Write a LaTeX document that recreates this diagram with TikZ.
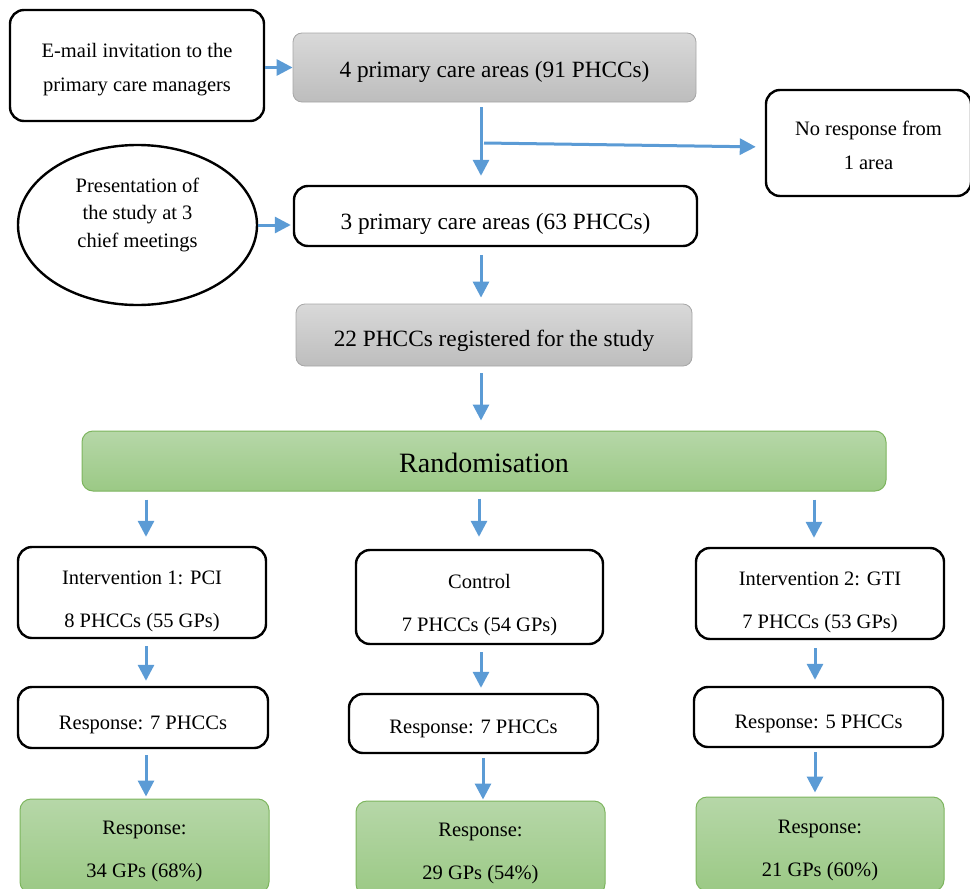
\documentclass[tikz,border=0pt]{standalone}
\usepackage{fontspec}
\setmainfont{Liberation Serif}
\usetikzlibrary{arrows.meta,shapes.geometric}
\definecolor{arrblue}{HTML}{5B9BD5}
\definecolor{graytop}{HTML}{D9D9D9}
\definecolor{graybot}{HTML}{BDBDBD}
\definecolor{grayline}{HTML}{A6A6A6}
\definecolor{greentop}{HTML}{B6D7A8}
\definecolor{greenbot}{HTML}{9BC985}
\definecolor{greenline}{HTML}{7DB55E}
\newcommand\dnr[1]{\rule{0pt}{#1pt}}
\begin{document}
\begin{tikzpicture}[x=1pt,y=-1pt,
  wbox/.style={draw=black, line width=2.4pt, rounded corners=14pt, fill=white, align=center, inner sep=0pt},
  gbox/.style={draw=grayline, line width=0.8pt, rounded corners=9pt, top color=graytop, bottom color=graybot, align=center, inner sep=0pt},
  grbox/.style={draw=greenline, line width=1pt, rounded corners=11pt, top color=greentop, bottom color=greenbot, align=center, inner sep=0pt},
  ell/.style={draw=black, line width=2.4pt, ellipse, fill=white, align=center, inner sep=0pt},
  arr/.style={draw=arrblue, line width=3pt, -{Triangle[length=16pt,width=16pt]}},
  dn/.style={execute at begin node={\rule{0pt}{#1pt}}},
  up/.style={execute at end node={\rule[-#1pt]{0pt}{1pt}}},
  fbig/.style={font=\fontsize{23.3}{30}\selectfont},
  fsm/.style={font=\fontsize{20.5}{34}\selectfont},
  fsm2/.style={font=\fontsize{20.5}{43}\selectfont}
]
\clip (0,0) rectangle (970,889);
% top row
\node[wbox, fsm, minimum width=254pt, minimum height=111pt] (email) at (137,65.5) {\dnr{23}E-mail invitation to the\\primary care managers};
\node[gbox, fbig, dn=25, minimum width=403pt, minimum height=69pt] (p4) at (494.5,67.5) {4 primary care areas (91 PHCCs)};
\node[wbox, fsm, minimum width=205pt, minimum height=106pt] (nores) at (868.5,143) {\dnr{19}No response from\\1 area};
\node[ell, font=\fontsize{20.5}{27.5}\selectfont, up=24.5, minimum width=239pt, minimum height=160pt] (pres) at (137.5,225) {Presentation of\\the study at 3\\chief meetings};
\node[wbox, fbig, dn=32, minimum width=403pt, minimum height=60pt] (p3) at (495.5,216) {3 primary care areas (63 PHCCs)};
\node[gbox, fbig, dn=28.5, minimum width=396pt, minimum height=62pt] (p22) at (494,335) {22 PHCCs registered for the study};
\node[grbox, font=\fontsize{28}{34}\selectfont, dn=24, minimum width=804pt, minimum height=60pt] (rand) at (484,461) {Randomisation};
% arms
\node[wbox, fsm2, minimum width=248pt, minimum height=91pt] (i1) at (142,592.5) {\dnr{31}Intervention 1: PCI\\8 PHCCs (55 GPs)};
\node[wbox, fsm2, minimum width=247pt, minimum height=94pt] (ctl) at (479.5,597) {\dnr{30}Control\\7 PHCCs (54 GPs)};
\node[wbox, fsm2, minimum width=248pt, minimum height=91pt] (i2) at (820,593.5) {\dnr{31}Intervention 2: GTI\\7 PHCCs (53 GPs)};
\node[wbox, fsm, dn=29, minimum width=250pt, minimum height=61pt] (r1) at (143,717.5) {Response: 7 PHCCs};
\node[wbox, fsm, dn=25, minimum width=249pt, minimum height=59pt] (r2) at (473.5,723.5) {Response: 7 PHCCs};
\node[wbox, fsm, dn=28, minimum width=249pt, minimum height=60pt] (r3) at (818.5,717) {Response: 5 PHCCs};
\node[grbox, fsm2, minimum width=249pt, minimum height=94pt] (g1) at (144.5,846) {\dnr{24}Response:\\34 GPs (68\%)};
\node[grbox, fsm2, minimum width=249pt, minimum height=94pt] (g2) at (480.5,848) {\dnr{25}Response:\\29 GPs (54\%)};
\node[grbox, fsm2, minimum width=248pt, minimum height=94pt] (g3) at (820,844) {\dnr{26}Response:\\21 GPs (60\%)};
% connectors
\draw[arr] (email.east |- p4.west) -- (p4.west);
\draw[arr, shorten <=5pt, shorten >=9pt] ([xshift=-13.5pt]p4.south) -- ([xshift=-14.5pt]p3.north);
\coordinate (br) at (484,143);
\draw[arr, shorten >=9pt] (br) -- ([yshift=-4pt]nores.west);
\draw[arr, shorten >=2pt] (pres.east) -- (p3.west |- pres.east);
\draw[arr, shorten <=8pt, shorten >=6pt] ([xshift=-14.5pt]p3.south) -- ([xshift=-13pt]p22.north);
\draw[arr, shorten <=7pt, shorten >=10pt] ([xshift=-13pt]p22.south) -- ([xshift=-3pt]rand.north);
\draw[arr, shorten <=8pt, shorten >=9pt] ([xshift=4pt]i1.north |- rand.south) -- ([xshift=4pt]i1.north);
\draw[arr, shorten <=7pt, shorten >=12pt] ([xshift=-0.5pt]ctl.north |- rand.south) -- ([xshift=-0.5pt]ctl.north);
\draw[arr, shorten <=8pt, shorten >=9pt] ([xshift=-6pt]i2.north |- rand.south) -- ([xshift=-6pt]i2.north);
\draw[arr, shorten <=7pt, shorten >=5pt] ([xshift=4pt]i1.south) -- ([xshift=3pt]r1.north);
\draw[arr, shorten <=7pt, shorten >=5pt] ([xshift=1.5pt]ctl.south) -- ([xshift=7.5pt]r2.north);
\draw[arr, shorten <=8pt, shorten >=6pt] ([xshift=-5pt]i2.south) -- ([xshift=-3.5pt]r3.north);
\draw[arr, shorten <=6pt, shorten >=2pt] ([xshift=3pt]r1.south) -- ([xshift=1.5pt]g1.north);
\draw[arr, shorten <=4pt, shorten >=1pt] ([xshift=9.5pt]r2.south) -- ([xshift=2.5pt]g2.north);
\draw[arr, shorten <=4pt, shorten >=4pt] ([xshift=-3.5pt]r3.south) -- ([xshift=-5pt]g3.north);
\end{tikzpicture}
\end{document}
